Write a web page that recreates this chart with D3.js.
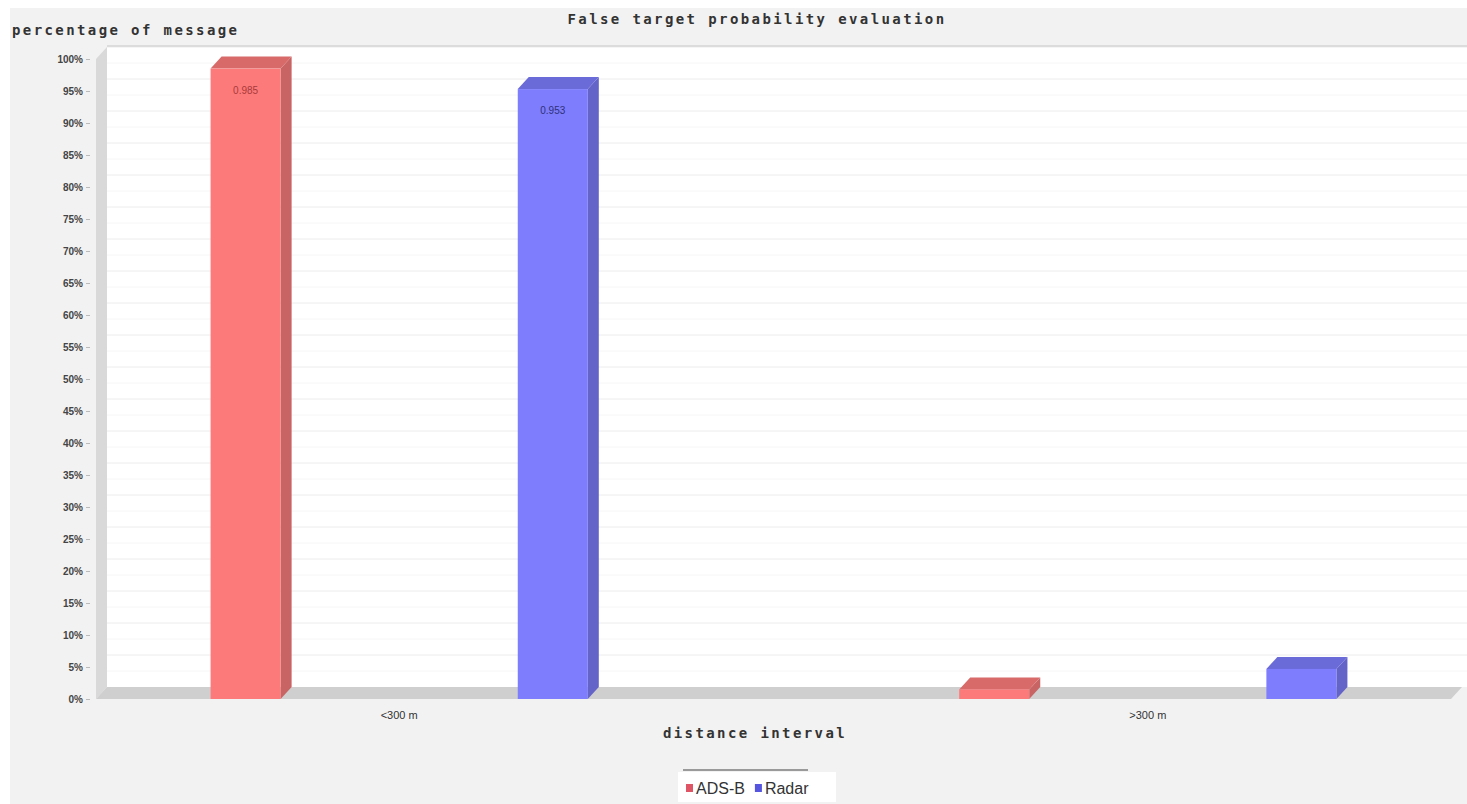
<!DOCTYPE html>
<html>
<head>
<meta charset="utf-8">
<script src="https://d3js.org/d3.v7.min.js"></script>
<style>
  html, body { margin: 0; padding: 0; background: #ffffff; }
  svg { display: block; }
</style>
</head>
<body>
<svg id="chart" width="1467" height="804"></svg>
<script>
// ---- data ----
const categories = ["<300 m", ">300 m"];
const seriesNames = ["ADS-B", "Radar"];
const adsbValues = [0.985, 0.015];
const radarValues = [0.953, 0.047];
const yTickValues = d3.range(0, 1.0001, 0.05);
const titleText = "False target probability evaluation";
const yAxisLabel = "percentage of message";
const xAxisLabel = "distance interval";

const seriesValues = { "ADS-B": adsbValues, "Radar": radarValues };
const rows = [];
categories.forEach((c, i) => seriesNames.forEach(s => rows.push({ cat: c, series: s, value: seriesValues[s][i] })));

// ---- styles ----
const colors = {
  "ADS-B": { front: "#fd7a7a", side: "#c86464", topc: "#d86a6a", label: "#a83a3a", legend: "#e05565" },
  "Radar": { front: "#7d7dfd", side: "#6464c8", topc: "#6a6ad8", label: "#30307a", legend: "#5555e0" }
};
const depthX = 11, depthY = 12;

const svg = d3.select("#chart");
svg.append("rect").attr("x", 10).attr("y", 8).attr("width", 1457).attr("height", 796).attr("fill", "#f2f2f2");

// plot geometry (front plane)
const pLeft = 96, pRight = 1451, pBottom = 699, pTop = 59;

const y = d3.scaleLinear().domain([0, 1]).range([pBottom, pTop]);
const x0 = d3.scaleBand().domain(categories).range([pLeft, pRight]).paddingInner(0.19).paddingOuter(0);
const x1 = d3.scaleBand().domain(seriesNames).range([0, x0.bandwidth()]).paddingInner(0.772).paddingOuter(0.373);

// back wall
svg.append("rect").attr("x", pLeft + depthX).attr("y", pTop - depthY - 1)
  .attr("width", pRight - pLeft + 20).attr("height", pBottom - pTop + 1).attr("fill", "#ffffff");
// grid lines on back wall
svg.append("g").selectAll("line").data(yTickValues.filter(v => v > 0)).join("line")
  .attr("x1", pLeft + depthX).attr("x2", 1467)
  .attr("y1", d => y(d) - depthY).attr("y2", d => y(d) - depthY)
  .attr("stroke", "#ececec").attr("stroke-width", 1);
svg.append("g").selectAll("line").data(yTickValues.slice(0, -1)).join("line")
  .attr("x1", pLeft + depthX).attr("x2", 1467)
  .attr("y1", d => y(d + 0.025) - depthY).attr("y2", d => y(d + 0.025) - depthY)
  .attr("stroke", "#f6f6f6").attr("stroke-width", 1);
// top shadow line
svg.append("line").attr("x1", pLeft + depthX).attr("x2", 1467).attr("y1", pTop - depthY - 1).attr("y2", pTop - depthY - 1)
  .attr("stroke", "#dcdcdc").attr("stroke-width", 2);

// left wall
svg.append("polygon")
  .attr("points", [[pLeft, y(1)], [pLeft + depthX, y(1) - depthY], [pLeft + depthX, pBottom - depthY], [pLeft, pBottom]].join(" "))
  .attr("fill", "#d9d9d9");
// floor
svg.append("polygon")
  .attr("points", [[pLeft, pBottom], [pLeft + depthX, pBottom - depthY], [pRight + depthX, pBottom - depthY], [pRight, pBottom]].join(" "))
  .attr("fill", "#cfcfcf");

// y axis ticks + labels
const yAxis = d3.axisLeft(y).tickValues(yTickValues).tickFormat(d3.format(".0%")).tickSize(4).tickPadding(3);
const gy = svg.append("g").attr("transform", `translate(${pLeft - 6},0)`).call(yAxis);
gy.select(".domain").remove();
gy.selectAll(".tick line").attr("stroke", "#bbbbbb");
gy.selectAll(".tick text").attr("font-family", "Liberation Sans, Arial, sans-serif").attr("font-size", 10)
  .attr("font-weight", "bold").attr("fill", "#444");

// x axis labels
const xAxis = d3.axisBottom(x0).tickSize(0).tickPadding(12);
const gx = svg.append("g").attr("transform", `translate(0,${pBottom})`).call(xAxis);
gx.select(".domain").remove();
gx.selectAll(".tick text").attr("font-family", "Liberation Sans, Arial, sans-serif").attr("font-size", 11).attr("fill", "#333");

// bars
const bars = svg.append("g").selectAll("g").data(rows).join("g");
bars.each(function(d) {
  const g = d3.select(this);
  const bx = x0(d.cat) + x1(d.series);
  const bw = x1.bandwidth();
  const by = y(d.value);
  const c = colors[d.series];
  g.append("polygon")
    .attr("points", [[bx + bw, by], [bx + bw + depthX, by - depthY], [bx + bw + depthX, pBottom - depthY], [bx + bw, pBottom]].join(" "))
    .attr("fill", c.side);
  g.append("polygon")
    .attr("points", [[bx, by], [bx + depthX, by - depthY], [bx + bw + depthX, by - depthY], [bx + bw, by]].join(" "))
    .attr("fill", c.topc);
  g.append("rect").attr("x", bx).attr("y", by).attr("width", bw).attr("height", pBottom - by).attr("fill", c.front);
  if (pBottom - by > 40) {
    g.append("text").attr("x", bx + bw / 2).attr("y", by + 25).attr("text-anchor", "middle")
      .attr("font-family", "Liberation Sans, Arial, sans-serif").attr("font-size", 10).attr("fill", c.label)
      .text(d3.format(".3f")(d.value));
  }
});

// titles
const mono = "DejaVu Sans Mono, monospace";
svg.append("text").attr("x", 757).attr("y", 24).attr("text-anchor", "middle")
  .attr("font-family", mono).attr("font-size", 14).attr("font-weight", "bold").attr("letter-spacing", 2.4).attr("fill", "#333").text(titleText);
svg.append("text").attr("x", 12).attr("y", 35)
  .attr("font-family", mono).attr("font-size", 14).attr("font-weight", "bold").attr("letter-spacing", 2.4).attr("fill", "#333").text(yAxisLabel);
svg.append("text").attr("x", 755).attr("y", 738).attr("text-anchor", "middle")
  .attr("font-family", mono).attr("font-size", 14).attr("font-weight", "bold").attr("letter-spacing", 2.4).attr("fill", "#333").text(xAxisLabel);

// legend
svg.append("line").attr("x1", 683).attr("x2", 808).attr("y1", 770).attr("y2", 770).attr("stroke", "#9a9a9a").attr("stroke-width", 2);
svg.append("rect").attr("x", 678).attr("y", 772).attr("width", 158).attr("height", 30).attr("fill", "#ffffff");
const legend = svg.append("g").attr("transform", "translate(686,794)");
let lx = 0;
seriesNames.forEach((s) => {
  legend.append("rect").attr("x", lx).attr("y", -10).attr("width", 7).attr("height", 8).attr("fill", colors[s].legend);
  const t = legend.append("text").attr("x", lx + 10).attr("y", 0)
    .attr("font-family", "Liberation Sans, Arial, sans-serif").attr("font-size", 16).attr("fill", "#333").text(s);
  lx += 10 + t.node().getComputedTextLength() + 10;
});
</script>
</body>
</html>
